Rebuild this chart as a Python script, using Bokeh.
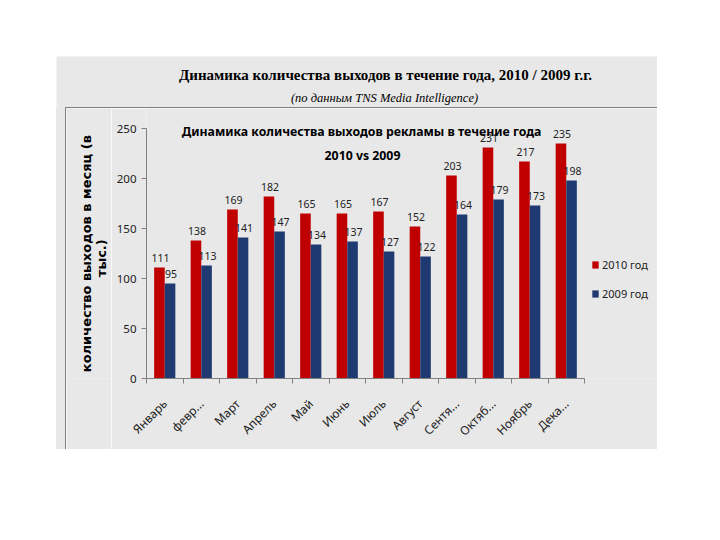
import numpy as np
from bokeh.plotting import figure
from bokeh.models import (FixedTicker, Label, LabelSet, ColumnDataSource, Legend, LegendItem,
                          Spacer, Range1d)
from bokeh.core.properties import value
from bokeh.layouts import column, row
from bokeh.embed import file_html
from bokeh.resources import INLINE

months = ["Январь", "февр...", "Март", "Апрель", "Май", "Июнь", "Июль", "Август",
          "Сентя...", "Октяб...", "Ноябрь", "Дека..."]
vals_2010 = [111, 138, 169, 182, 165, 165, 167, 152, 203, 231, 217, 235]
vals_2009 = [95, 113, 141, 147, 134, 137, 127, 122, 164, 179, 173, 198]
series_names = ["2010 год", "2009 год"]
y_ticks = [0, 50, 100, 150, 200, 250]

RED = "#C00000"
BLUE = "#1F3A70"
BG = "#E8E8E8"
LINE = "#808080"
TXT = "#222222"
FONT = "Noto Sans"


def bare_fig(w, h, xr, yr):
    f = figure(width=w, height=h, output_backend="svg", toolbar_location=None, title=None,
               x_range=xr, y_range=yr, x_axis_type=None, y_axis_type=None,
               min_border=0, min_border_left=0, min_border_right=0,
               min_border_top=0, min_border_bottom=0)
    f.background_fill_color = BG
    f.border_fill_color = BG
    f.outline_line_color = None
    f.grid.visible = False
    return f


# ---------------- header (page x 56..657, y 56..107) ----------------
H = bare_fig(601, 51, Range1d(56, 657), Range1d(107, 56))
H.add_layout(Label(x=385, y=74, text="Динамика количества выходов в течение года, 2010 / 2009 г.г.",
                   text_font="Liberation Serif", text_font_size="15px", text_font_style="bold",
                   text_align="center", text_baseline="middle", text_color="#000000"))
H.add_layout(Label(x=384, y=97, text="(по данным TNS Media Intelligence)",
                   text_font="Liberation Serif", text_font_size="12.5px", text_font_style="italic",
                   text_align="center", text_baseline="middle", text_color="#000000"))

# ---------------- y label strip (page x 66..111, y 108..449) ----------------
L = bare_fig(45, 341, Range1d(66, 111), Range1d(449, 108))
L.add_layout(Label(x=86, y=441, text="количество выходов в месяц  (в", angle=np.pi / 2,
                   text_font="DejaVu Sans", text_font_size="13px", text_font_style="bold",
                   text_align="left", text_baseline="middle", text_color="#000000"))
L.add_layout(Label(x=101, y=321, text="тыс.)", angle=np.pi / 2,
                   text_font="DejaVu Sans", text_font_size="13px", text_font_style="bold",
                   text_align="left", text_baseline="middle", text_color="#000000"))

# ---------------- main chart (page x 111..657, y 108..449) ----------------
FL, FB = 146, 378
p = figure(width=546, height=341, output_backend="svg", toolbar_location=None, title=None,
           x_range=Range1d(0, 14), y_range=Range1d(0, 270),
           min_border_left=35, min_border_right=0, min_border_top=0, min_border_bottom=71)
p.background_fill_color = BG
p.border_fill_color = BG
p.outline_line_color = None
p.grid.visible = False

centers = np.arange(len(months)) + 0.5
bw = 0.29
src = ColumnDataSource(dict(
    xr=centers - bw / 2, xb=centers + bw / 2,
    v10=vals_2010, v09=vals_2009,
    t10=[str(v) for v in vals_2010], t09=[str(v) for v in vals_2009]))

r10 = p.vbar(x="xr", top="v10", width=bw, source=src, fill_color=RED, line_color=None)
r09 = p.vbar(x="xb", top="v09", width=bw, source=src, fill_color=BLUE, line_color=None)

for xcol, tcol, ycol in (("xr", "t10", "v10"), ("xb", "t09", "v09")):
    p.add_layout(LabelSet(x=xcol, y=ycol, text=tcol, source=src, text_align="center",
                          text_baseline="bottom", y_offset=6, x_offset=1,
                          text_font=value(FONT), text_font_size=value("10.5px"),
                          text_color=TXT))

yax = p.yaxis[0]
yax.ticker = FixedTicker(ticks=y_ticks)
yax.bounds = (0, 250)
yax.axis_line_color = LINE
yax.major_tick_line_color = LINE
yax.major_tick_out = 5
yax.major_tick_in = 0
yax.minor_tick_line_color = None
yax.major_label_text_font = FONT
yax.major_label_text_font_size = "11.5px"
yax.major_label_text_color = TXT
yax.major_label_standoff = 5

xax = p.xaxis[0]
xax.ticker = FixedTicker(ticks=list(centers), minor_ticks=list(range(len(months) + 1)))
xax.bounds = (0, 12)
xax.major_label_overrides = {float(c): m for c, m in zip(centers, months)}
xax.major_label_orientation = np.pi / 4
xax.axis_line_color = LINE
xax.major_tick_line_color = None
xax.major_tick_out = 0
xax.major_tick_in = 0
xax.minor_tick_line_color = LINE
xax.minor_tick_out = 5
xax.minor_tick_in = 0
xax.major_label_text_font = FONT
xax.major_label_text_font_size = "12px"
xax.major_label_text_color = TXT
xax.major_label_standoff = 18

legend = Legend(items=[LegendItem(label=series_names[0], renderers=[r10]),
                       LegendItem(label=series_names[1], renderers=[r09])],
                location=(591 - FL, FB - 301), orientation="vertical",
                glyph_width=8, glyph_height=9, label_height=14, spacing=14,
                label_standoff=3, padding=0, margin=0,
                background_fill_alpha=0, border_line_color=None,
                label_text_font=FONT, label_text_font_size="11px",
                label_text_color=TXT)
p.add_layout(legend)

for txt, px, py in (("Динамика количества выходов рекламы в течение года", 361, 131),
                    ("2010 vs 2009", 362, 155)):
    p.add_layout(Label(x=px - FL, y=FB - py, x_units="screen", y_units="screen", text=txt,
                       text_font=FONT, text_font_size="12.3px", text_font_style="bold",
                       text_align="center", text_baseline="middle", text_color="#000000"))

# ---------------- assembly ----------------
top_line = row(Spacer(width=9, height=1, styles={"background-color": BG}),
               Spacer(width=592, height=1, styles={"background-color": LINE}))
body = row(Spacer(width=9, height=341, styles={"background-color": BG}),
           Spacer(width=1, height=341, styles={"background-color": LINE}),
           L, p)
box = column(H, top_line, body)
layout = column(Spacer(width=10, height=56), row(Spacer(width=56, height=10), box))
open("out.html", "w").write(file_html(layout, INLINE))
